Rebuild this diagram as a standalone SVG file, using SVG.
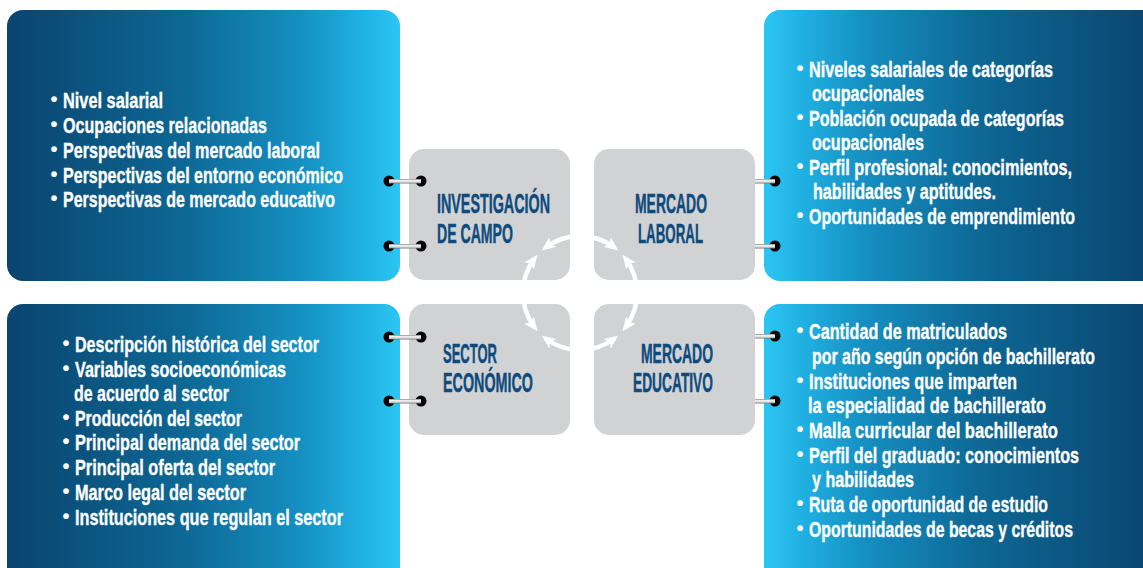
<svg xmlns="http://www.w3.org/2000/svg" width="1143" height="568" viewBox="0 0 1143 568">
<defs>
<linearGradient id="gL" x1="0" y1="0" x2="1" y2="0">
<stop offset="0" stop-color="#0a446f"/>
<stop offset="0.45" stop-color="#0d6794"/>
<stop offset="0.75" stop-color="#1590c2"/>
<stop offset="0.92" stop-color="#22b4e6"/>
<stop offset="1" stop-color="#2cc6f3"/>
</linearGradient>
<linearGradient id="gR" x1="1" y1="0" x2="0" y2="0">
<stop offset="0" stop-color="#0a446f"/>
<stop offset="0.45" stop-color="#0d6794"/>
<stop offset="0.75" stop-color="#1590c2"/>
<stop offset="0.92" stop-color="#22b4e6"/>
<stop offset="1" stop-color="#2cc6f3"/>
</linearGradient>
<linearGradient id="bar" x1="0" y1="0" x2="0" y2="1">
<stop offset="0" stop-color="#8a8a8a"/>
<stop offset="0.35" stop-color="#f2f2f2"/>
<stop offset="0.65" stop-color="#dcdcdc"/>
<stop offset="1" stop-color="#7a7a7a"/>
</linearGradient>
<marker id="ah" viewBox="0 0 14 12" refX="9" refY="6" markerWidth="14" markerHeight="12" markerUnits="userSpaceOnUse" orient="auto-start-reverse">
<path d="M0,0 L14,6 L0,12 L3,6 z" fill="#ffffff"/>
</marker>
</defs>
<style>
.body{font-family:"Liberation Sans Narrow","Liberation Sans",Arial,sans-serif;font-weight:bold;font-size:22px;fill:#ffffff;stroke:#ffffff;stroke-width:0.35}
.bul{font-family:"Liberation Sans",Arial,sans-serif;font-weight:bold;font-size:20px;fill:#ffffff;text-anchor:middle}
.head{font-family:"Liberation Sans Narrow","Liberation Sans",Arial,sans-serif;font-weight:bold;font-size:28px;fill:#0e4b7d;stroke:#0e4b7d;stroke-width:0.45}
.box{fill:#d1d2d4}
.hole{fill:#000000}
.arc{fill:none;stroke:#ffffff;stroke-width:4.5;marker-start:url(#ah);marker-end:url(#ah)}
</style>
<rect width="1143" height="568" fill="#ffffff"/>

<g id="panel-top-left">
<rect x="7" y="10" width="393" height="271" rx="16" fill="url(#gL)"/>
<text class="bul" x="54" y="106">•</text>
<text class="bul" x="54" y="131">•</text>
<text class="bul" x="54" y="156">•</text>
<text class="bul" x="54" y="181">•</text>
<text class="bul" x="54" y="205">•</text>
<text class="body" x="63" y="108" textLength="100" lengthAdjust="spacingAndGlyphs">Nivel salarial</text>
<text class="body" x="63" y="133" textLength="204" lengthAdjust="spacingAndGlyphs">Ocupaciones relacionadas</text>
<text class="body" x="63" y="158" textLength="257" lengthAdjust="spacingAndGlyphs">Perspectivas del mercado laboral</text>
<text class="body" x="63" y="183" textLength="280" lengthAdjust="spacingAndGlyphs">Perspectivas del entorno económico</text>
<text class="body" x="63" y="207" textLength="272" lengthAdjust="spacingAndGlyphs">Perspectivas de mercado educativo</text>
</g>

<g id="panel-top-right">
<rect x="764" y="10" width="395" height="271" rx="16" fill="url(#gR)"/>
<text class="bul" x="800" y="75">•</text>
<text class="bul" x="800" y="124">•</text>
<text class="bul" x="800" y="173">•</text>
<text class="bul" x="800" y="222">•</text>
<text class="body" x="809" y="77" textLength="244" lengthAdjust="spacingAndGlyphs">Niveles salariales de categorías</text>
<text class="body" x="812" y="101" textLength="112" lengthAdjust="spacingAndGlyphs">ocupacionales</text>
<text class="body" x="809" y="126" textLength="255" lengthAdjust="spacingAndGlyphs">Población ocupada de categorías</text>
<text class="body" x="812" y="150" textLength="112" lengthAdjust="spacingAndGlyphs">ocupacionales</text>
<text class="body" x="809" y="175" textLength="263" lengthAdjust="spacingAndGlyphs">Perfil profesional: conocimientos,</text>
<text class="body" x="813" y="199" textLength="183" lengthAdjust="spacingAndGlyphs">habilidades y aptitudes.</text>
<text class="body" x="809" y="224" textLength="266" lengthAdjust="spacingAndGlyphs">Oportunidades de emprendimiento</text>
</g>

<g id="panel-bottom-left">
<rect x="7" y="304" width="393" height="300" rx="16" fill="url(#gL)"/>
<text class="bul" x="66" y="350">•</text>
<text class="bul" x="66" y="375">•</text>
<text class="bul" x="66" y="424">•</text>
<text class="bul" x="66" y="448">•</text>
<text class="bul" x="66" y="473">•</text>
<text class="bul" x="66" y="498">•</text>
<text class="bul" x="66" y="523">•</text>
<text class="body" x="75" y="352" textLength="244" lengthAdjust="spacingAndGlyphs">Descripción histórica del sector</text>
<text class="body" x="75" y="377" textLength="211" lengthAdjust="spacingAndGlyphs">Variables socioeconómicas</text>
<text class="body" x="74" y="401" textLength="155" lengthAdjust="spacingAndGlyphs">de acuerdo al sector</text>
<text class="body" x="75" y="426" textLength="167" lengthAdjust="spacingAndGlyphs">Producción del sector</text>
<text class="body" x="75" y="450" textLength="225" lengthAdjust="spacingAndGlyphs">Principal demanda del sector</text>
<text class="body" x="75" y="475" textLength="200" lengthAdjust="spacingAndGlyphs">Principal oferta del sector</text>
<text class="body" x="75" y="500" textLength="171" lengthAdjust="spacingAndGlyphs">Marco legal del sector</text>
<text class="body" x="75" y="525" textLength="268" lengthAdjust="spacingAndGlyphs">Instituciones que regulan el sector</text>
</g>

<g id="panel-bottom-right">
<rect x="764" y="304" width="395" height="300" rx="16" fill="url(#gR)"/>
<text class="bul" x="800" y="337">•</text>
<text class="bul" x="800" y="387">•</text>
<text class="bul" x="800" y="436">•</text>
<text class="bul" x="800" y="461">•</text>
<text class="bul" x="800" y="510">•</text>
<text class="bul" x="800" y="535">•</text>
<text class="body" x="809" y="339" textLength="198" lengthAdjust="spacingAndGlyphs">Cantidad de matriculados</text>
<text class="body" x="812" y="364" textLength="283" lengthAdjust="spacingAndGlyphs">por año según opción de bachillerato</text>
<text class="body" x="809" y="389" textLength="208" lengthAdjust="spacingAndGlyphs">Instituciones que imparten</text>
<text class="body" x="808" y="413" textLength="238" lengthAdjust="spacingAndGlyphs">la especialidad de bachillerato</text>
<text class="body" x="809" y="438" textLength="249" lengthAdjust="spacingAndGlyphs">Malla curricular del bachillerato</text>
<text class="body" x="809" y="463" textLength="270" lengthAdjust="spacingAndGlyphs">Perfil del graduado: conocimientos</text>
<text class="body" x="812" y="487" textLength="102" lengthAdjust="spacingAndGlyphs">y habilidades</text>
<text class="body" x="809" y="512" textLength="239" lengthAdjust="spacingAndGlyphs">Ruta de oportunidad de estudio</text>
<text class="body" x="809" y="537" textLength="264" lengthAdjust="spacingAndGlyphs">Oportunidades de becas y créditos</text>
</g>

<g id="node-investigacion">
<rect class="box" x="409" y="149" width="161" height="131" rx="15"/>
<text class="head" x="437" y="213" textLength="113" lengthAdjust="spacingAndGlyphs">INVESTIGACIÓN</text>
<text class="head" x="437" y="243" textLength="76" lengthAdjust="spacingAndGlyphs">DE CAMPO</text>
</g>

<g id="node-mercado-laboral">
<rect class="box" x="594" y="149" width="161" height="131" rx="15"/>
<text class="head" x="635" y="213" textLength="72" lengthAdjust="spacingAndGlyphs">MERCADO</text>
<text class="head" x="638" y="243" textLength="65" lengthAdjust="spacingAndGlyphs">LABORAL</text>
</g>

<g id="node-sector-economico">
<rect class="box" x="409" y="304" width="161" height="131" rx="15"/>
<text class="head" x="443" y="363" textLength="54" lengthAdjust="spacingAndGlyphs">SECTOR</text>
<text class="head" x="443" y="392" textLength="90" lengthAdjust="spacingAndGlyphs">ECONÓMICO</text>
</g>

<g id="node-mercado-educativo">
<rect class="box" x="594" y="304" width="161" height="131" rx="15"/>
<text class="head" x="641" y="363" textLength="72" lengthAdjust="spacingAndGlyphs">MERCADO</text>
<text class="head" x="633" y="392" textLength="80" lengthAdjust="spacingAndGlyphs">EDUCATIVO</text>
</g>

<g id="connectors">
<circle class="hole" cx="389" cy="181" r="5.5"/><circle class="hole" cx="421" cy="181" r="5.5"/>
<rect x="389" y="179" width="32" height="4.5" fill="url(#bar)"/>
<circle class="hole" cx="389" cy="246" r="5.5"/><circle class="hole" cx="421" cy="246" r="5.5"/>
<rect x="389" y="244" width="32" height="4.5" fill="url(#bar)"/>
<circle class="hole" cx="775" cy="181" r="5.5"/>
<rect x="755" y="179" width="20" height="4.5" fill="url(#bar)"/>
<circle class="hole" cx="775" cy="246" r="5.5"/>
<rect x="755" y="244" width="20" height="4.5" fill="url(#bar)"/>
<circle class="hole" cx="389" cy="337" r="5.5"/><circle class="hole" cx="421" cy="337" r="5.5"/>
<rect x="389" y="335" width="32" height="4.5" fill="url(#bar)"/>
<circle class="hole" cx="389" cy="401" r="5.5"/><circle class="hole" cx="421" cy="401" r="5.5"/>
<rect x="389" y="399" width="32" height="4.5" fill="url(#bar)"/>
<circle class="hole" cx="775" cy="336" r="5.5"/>
<rect x="755" y="334" width="20" height="4.5" fill="url(#bar)"/>
<circle class="hole" cx="775" cy="401" r="5.5"/>
<rect x="755" y="399" width="20" height="4.5" fill="url(#bar)"/>
<path class="arc" d="M545.7,247.5 A57,57 0 0 1 614.3,247.5"/>
<path class="arc" d="M625.5,258.7 A57,57 0 0 1 625.5,327.3"/>
<path class="arc" d="M614.3,338.5 A57,57 0 0 1 545.7,338.5"/>
<path class="arc" d="M534.5,327.3 A57,57 0 0 1 534.5,258.7"/>
</g>
</svg>
